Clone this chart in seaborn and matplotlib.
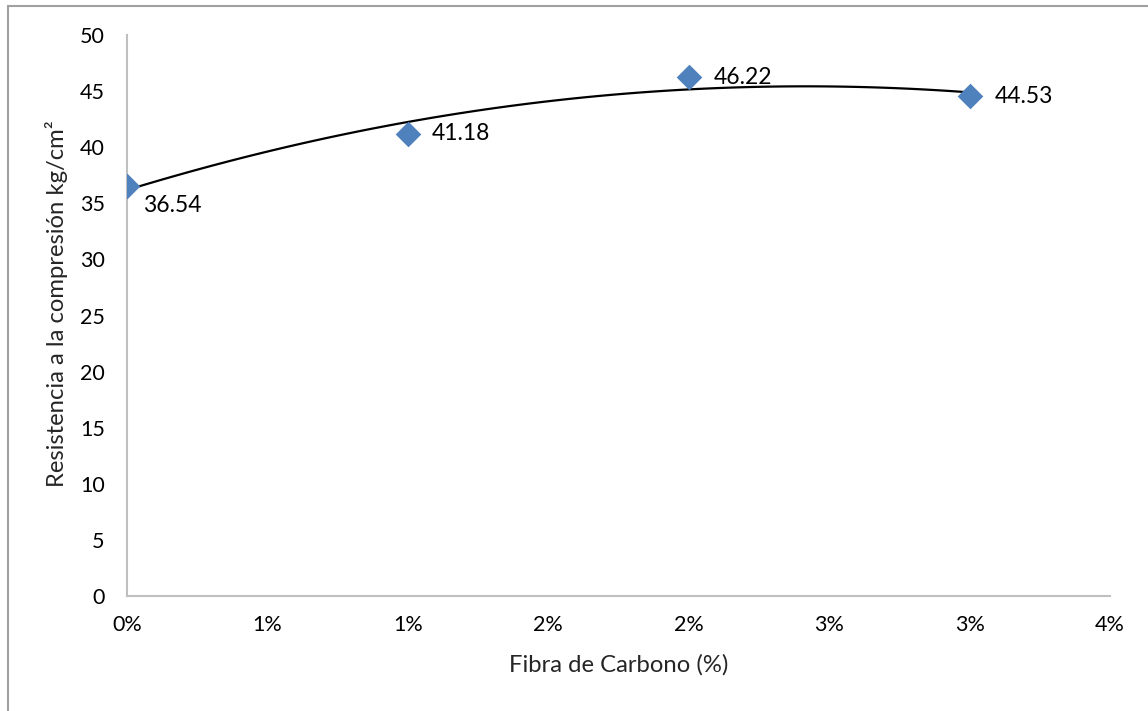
import numpy as np
import pandas as pd
import matplotlib
matplotlib.use("Agg")
import matplotlib.pyplot as plt
import seaborn as sns
from matplotlib.lines import Line2D

# ---- data ----
fibra = [0.0, 0.01, 0.02, 0.03]
resistencia = [36.54, 41.18, 46.22, 44.53]
labels = ["36.54", "41.18", "46.22", "44.53"]
x_ticks = [0.0, 0.005, 0.01, 0.015, 0.02, 0.025, 0.03, 0.035]
x_tick_labels = ["0%", "1%", "1%", "2%", "2%", "3%", "3%", "4%"]
y_ticks = [0, 5, 10, 15, 20, 25, 30, 35, 40, 45, 50]

df = pd.DataFrame({"fibra": fibra, "resistencia": resistencia})

sns.set_theme(style="white")
plt.rcParams["font.family"] = ["Lato", "DejaVu Sans"]

fig = plt.figure(figsize=(11.48, 7.11), dpi=100)
ax = fig.add_axes([127 / 1148, 1 - 596 / 711, (1110 - 127) / 1148, (596 - 35) / 711])

blue = "#4F81BD"
sns.regplot(data=df, x="fibra", y="resistencia", order=2, ci=None, scatter=False,
            line_kws={"color": "black", "lw": 1.6}, ax=ax)
sns.scatterplot(data=df, x="fibra", y="resistencia", marker="D", s=170,
                color=blue, edgecolor=blue, linewidth=0, ax=ax, zorder=3)

offsets = [(11.5, -14), (17, 0), (18, 0), (18, 0)]
for xv, yv, lab, off in zip(fibra, resistencia, labels, offsets):
    ax.annotate(lab, (xv, yv), xytext=off, textcoords="offset points",
                ha="left", va="center", fontsize=16.5, color="black")

ax.set_xlim(0, 0.035)
ax.set_ylim(0, 50)
ax.set_xticks(x_ticks)
ax.set_xticklabels(x_tick_labels)
ax.set_yticks(y_ticks)
ax.tick_params(axis="both", labelsize=15.5, length=0, colors="black")
ax.tick_params(axis="x", pad=14)
ax.tick_params(axis="y", pad=16)
ax.set_xlabel("Fibra de Carbono (%)", fontsize=17.2)
ax.set_ylabel("Resistencia a la compresión kg/cm²", fontsize=17.2)
ax.xaxis.set_label_coords(0.5, (596 - 654) / 561)
ax.yaxis.set_label_coords((68 - 127) / 983, (596 - 304) / 561)

for side in ["top", "right"]:
    ax.spines[side].set_visible(False)
for side in ["left", "bottom"]:
    ax.spines[side].set_color("#BFBFBF")
    ax.spines[side].set_linewidth(1.5)
ax.grid(False)

# outer chart border (top and left visible)
fig.add_artist(Line2D([7.5 / 1148, 1], [1 - 5.5 / 711, 1 - 5.5 / 711],
                      transform=fig.transFigure, color="#A0A0A0", lw=1.5))
fig.add_artist(Line2D([7.5 / 1148, 7.5 / 1148], [0, 1 - 5.5 / 711],
                      transform=fig.transFigure, color="#A0A0A0", lw=1.5))

fig.savefig("out.png", dpi=100)
